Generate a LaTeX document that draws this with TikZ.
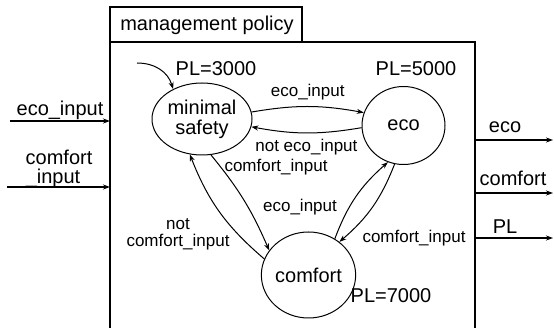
\documentclass[tikz,border=0pt]{standalone}
\usepackage{fontspec}
\setmainfont{Liberation Sans}
\usetikzlibrary{arrows.meta,shapes.geometric}
\begin{document}
\begin{tikzpicture}[x=1pt,y=-1pt,
  big/.style={font=\fontsize{20}{21}\selectfont},
  small/.style={font=\fontsize{17}{18}\selectfont},
  lbl/.style={inner sep=0pt},
  state/.style={draw,ellipse,line width=1pt,inner sep=0pt,big},
  tr/.style={line width=1pt,-{Stealth[length=7pt,width=5pt]}},
  io/.style={line width=1.2pt,-{Stealth[length=7pt,width=5pt]}}]
\useasboundingbox (0,0) rectangle (554,328);
% boxes
\draw[line width=1.2pt] (110,328) -- (110,42) -- (475,42) -- (475,328);
\draw[line width=1.2pt] (110,7) rectangle (302,42);
\node[lbl,big] (title) at (207,25) {management policy};
% states
\node[state,minimum width=100pt,minimum height=72pt,align=center] (ms) at (202,119) {minimal\\[-1pt]safety};
\node[state,minimum width=83pt,minimum height=78pt] (eco) at (403.5,125.5) {eco};
\node[state,minimum width=87pt,minimum height=86pt] (cf) at (308.5,275) {comfort};
% PL labels
\node[lbl,big] (pl3) at (216,69) {PL=3000};
\node[lbl,big] (pl5) at (416,69) {PL=5000};
\node[lbl,big] (pl7) at (391,296) {PL=7000};
% initial arrow
\coordinate (init) at (137,63);
\draw[tr] (init) .. controls (155,63) and (168,72) .. (ms.134);
% transitions
\draw[tr] (ms.8) to[bend left=10] node[lbl,small,above=6pt] (l1) {eco\_input} (eco.162);
\draw[tr] (eco.183) to[bend left=10] node[lbl,small,below=6pt] (l2) {not eco\_input} (ms.-9);
\draw[tr] (ms.-76) to[bend left=8] (cf.148);
\node[lbl,small] (l3) at (276,167) {comfort\_input};
\draw[tr] (cf.160) to[bend left=14] (ms.251);
\node[lbl,small] (l4a) at (178,224) {not};
\node[lbl,small] (l4b) at (178,242) {comfort\_input};
\draw[tr] (cf.54) to[bend left=14] (eco.247);
\node[lbl,small] (l5) at (300,207) {eco\_input};
\draw[tr] (eco.257) to[bend left=14] (cf.47);
\node[lbl,small] (l6) at (414,238) {comfort\_input};
% inputs
\coordinate (in1) at (10,121);
\coordinate (in2) at (7,187);
\coordinate (e1) at (110,121);
\coordinate (e2) at (110,187);
\draw[io] (in1) -- (e1);
\draw[io] (in2) -- (e2);
\node[lbl,big] (t1) at (60,110) {eco\_input};
\node[lbl,big] (t2a) at (59,157) {comfort};
\node[lbl,big] (t2b) at (53,178) {\_input};
% outputs
\coordinate (o1s) at (475,140);
\coordinate (o2s) at (475,193);
\coordinate (o3s) at (475,238);
\coordinate (o1) at (553,140);
\coordinate (o2) at (553,193);
\coordinate (o3) at (553,238);
\draw[io] (o1s) -- (o1);
\draw[io] (o2s) -- (o2);
\draw[io] (o3s) -- (o3);
\node[lbl,big] (u1) at (505,127) {eco};
\node[lbl,big] (u2) at (513,178) {comfort};
\node[lbl,big] (u3) at (505,227) {PL};
\end{tikzpicture}
\end{document}
